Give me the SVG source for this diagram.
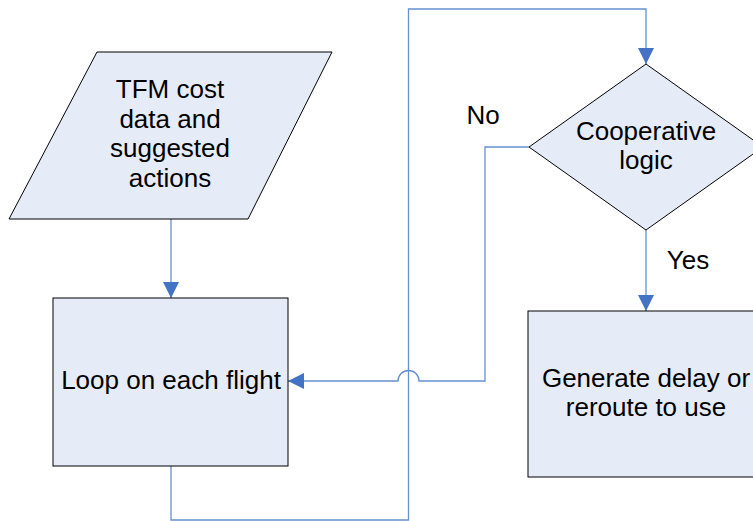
<svg xmlns="http://www.w3.org/2000/svg" width="753" height="521" viewBox="0 0 753 521">
<style>
.shape{fill:#E6ECF7;stroke:#000;stroke-width:1}
.conn{fill:none;stroke:#6690D0;stroke-width:1.3}
text{font-family:"Liberation Sans",Arial,sans-serif;font-size:26px;fill:#000;text-anchor:middle}
</style>
<defs>
<marker id="arr" viewBox="0 0 16 16" refX="16" refY="8" markerWidth="16" markerHeight="16" markerUnits="userSpaceOnUse" orient="auto">
<path d="M0,0 L16,8 L0,16 Z" fill="#4472C4"/>
</marker>
</defs>
<rect width="753" height="521" fill="#fff"/>
<g id="connectors">
<path class="conn" d="M171,219 V298" marker-end="url(#arr)"/>
<path class="conn" d="M171,466 V520 H408.5 V9 H646 V64" marker-end="url(#arr)"/>
<path class="conn" d="M529,147 H485 V381 H419 A10.5,10.5 0 0 0 398,381 H288" marker-end="url(#arr)"/>
<path class="conn" d="M646,230 V311" marker-end="url(#arr)"/>
</g>
<g id="input">
<polygon class="shape" points="97,52 332,52 248,219 9,219"/>
<text x="170" y="98">TFM cost</text>
<text x="170" y="128">data and</text>
<text x="170" y="157">suggested</text>
<text x="170" y="187">actions</text>
</g>
<g id="loop">
<rect class="shape" x="53" y="298" width="235" height="168"/>
<text x="171" y="389">Loop on each flight</text>
</g>
<g id="decision">
<polygon class="shape" points="646,64 763,147 646,230 529,147"/>
<text x="646" y="140">Cooperative</text>
<text x="646" y="169">logic</text>
</g>
<g id="generate">
<rect class="shape" x="528" y="311" width="240" height="166"/>
<text x="646" y="387">Generate delay or</text>
<text x="646" y="416">reroute to use</text>
</g>
<g id="labels">
<text x="483" y="124">No</text>
<text x="688" y="269">Yes</text>
</g>
</svg>
